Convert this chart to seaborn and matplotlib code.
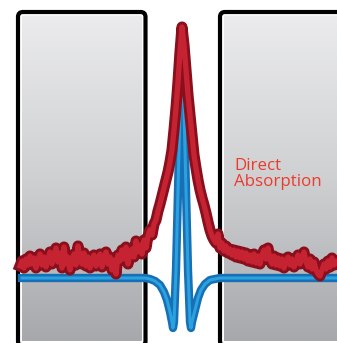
import matplotlib
matplotlib.use("Agg")
import matplotlib.pyplot as plt
import seaborn as sns
import numpy as np
from matplotlib.patches import FancyBboxPatch
from matplotlib.colors import LinearSegmentedColormap

# red trace: direct absorption (x, depth measured from top of picture)
red_x = [20, 22, 24, 26, 28, 30, 32, 34, 36, 38, 40, 42, 44, 46, 48, 50, 52, 54, 56, 58,
         60, 62, 64, 66, 68, 70, 72, 74, 76, 78, 80, 82, 84, 86, 88, 90, 92, 94, 96, 98,
         100, 102, 104, 106, 108, 110, 112, 114, 116, 118, 120, 122, 124, 126, 128, 130,
         132, 134, 136, 138, 140, 142, 144, 146, 148, 150, 152, 154, 156, 158, 160, 162,
         164, 166, 168, 170, 172, 174, 176, 178, 180, 182, 184, 186, 188, 190, 192, 194,
         196, 198, 200, 202, 204, 206, 208, 210, 212, 214, 216, 218, 220, 222, 224, 226,
         228, 230, 232, 234, 236, 238, 240, 242, 244, 246, 248, 250, 252, 254, 256, 258,
         260, 262, 264, 266, 268, 270, 272, 274, 276, 278, 280, 282, 284, 286, 288, 290,
         292, 294, 296, 298, 300, 302, 304, 306, 308, 310, 312, 314, 316, 318, 320, 322,
         324, 326, 328, 330, 332, 334, 336, 338]
red_y = [266, 261, 268, 259, 265, 256, 264, 258, 268, 260, 254, 265, 257, 267, 259, 252, 264, 256, 248, 262,
         253, 268, 247, 264, 257, 270, 259, 254, 265, 246, 258, 264, 253, 266, 257, 268, 259, 255, 266, 259,
         254, 267, 258, 252, 264, 257, 270, 260, 274, 255, 261, 250, 259, 247, 264, 253,
         249, 257, 241, 252, 245, 254, 240, 248, 236, 230, 235, 224, 220, 211, 204, 196,
         188, 180, 172, 162, 150, 130, 108, 82, 52, 27, 45, 70, 95, 115, 135, 155,
         168, 180, 190, 198, 205, 213, 222, 230, 236, 240, 243, 234, 248, 243, 251, 246,
         253, 249, 255, 250, 257, 251, 258, 252, 259, 253, 261, 255, 262, 254, 263, 256,
         264, 255, 250, 259, 248, 260, 264, 256, 265, 258, 266, 259, 268, 260, 257, 265,
         259, 267, 262, 255, 264, 258, 252, 262, 267, 259, 269, 262, 270, 274, 276, 270,
         264, 269, 261, 267, 258, 265, 261, 263]

# blue trace: Doppler-free (derivative-like) signal
blue_x = [22, 145, 150, 155, 160, 164, 167, 170, 172, 173, 174, 176, 178, 180, 182,
          184, 186, 188, 190, 191, 192, 195, 198, 201, 205, 210, 215, 220, 338]
blue_y = [278, 278, 279, 281, 285, 292, 300, 312, 322, 328, 322, 270, 190, 110, 75,
          110, 190, 270, 322, 328, 322, 310, 298, 290, 284, 280, 279, 278, 278]

label_lines = ["Direct", "Absorption"]

# cell windows: (left, right) of the black frames
panels = [(18, 145.5), (220, 360)]
panel_top = 12
panel_bottom = 346

fig = plt.figure(figsize=(3.37, 3.43), dpi=100)
ax = fig.add_axes([0, 0, 1, 1])
ax.axis("off")

grad = LinearSegmentedColormap.from_list("cell", ["#ebebed", "#cfd0d2", "#a7a8ac"])
for left, right in panels:
    frame = FancyBboxPatch((left, panel_top), right - left, panel_bottom - panel_top,
                           boxstyle="round,pad=0,rounding_size=5",
                           fc="white", ec="black", lw=3, zorder=1)
    ax.add_patch(frame)
    inner = FancyBboxPatch((left + 3.5, panel_top + 3.5), right - left - 7, 341.5 - panel_top - 3.5,
                           boxstyle="round,pad=0,rounding_size=2",
                           fc="none", ec="none", zorder=1)
    ax.add_patch(inner)
    im = ax.imshow(np.linspace(0, 1, 256).reshape(-1, 1), cmap=grad, aspect="auto",
                   extent=(left + 3.5, right - 3.5, 341.5, panel_top + 3.5),
                   origin="upper", zorder=1.5)
    im.set_clip_path(inner)

sns.lineplot(x=blue_x, y=blue_y, ax=ax, color="#1770b5", lw=6, sort=False,
             estimator=None, zorder=3)
sns.lineplot(x=blue_x, y=blue_y, ax=ax, color="#2ba2e0", lw=2.2, sort=False,
             estimator=None, zorder=3.1)
sns.lineplot(x=red_x, y=red_y, ax=ax, color="#8a0f1c", lw=8, sort=False,
             estimator=None, zorder=4, solid_joinstyle="round")
sns.lineplot(x=red_x, y=red_y, ax=ax, color="#c52232", lw=3.8, sort=False,
             estimator=None, zorder=4.1, solid_joinstyle="round")

ax.text(234, 158, "\n".join(label_lines), color="#ee3a2c", fontsize=12.2,
        family="Open Sans", va="top", ha="left", linespacing=1.02, zorder=5)

ax.set_xlim(0, 337)
ax.set_ylim(343, 0)
fig.savefig("out.png", dpi=100)
